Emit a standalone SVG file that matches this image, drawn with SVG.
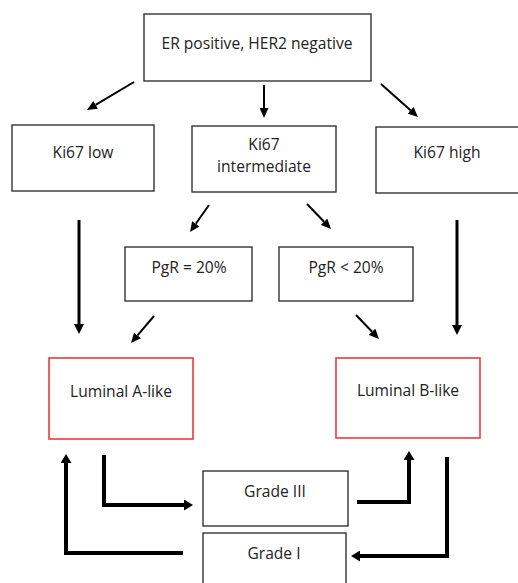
<svg xmlns="http://www.w3.org/2000/svg" width="518" height="583" viewBox="0 0 518 583">
<style>
.box{fill:#fff;stroke:#333;stroke-width:1.4}
.red{fill:#fff;stroke:#ee3a3a;stroke-width:1.6}
text{font-family:"Open Sans","Liberation Sans",Arial,sans-serif;font-size:15.6px;fill:#222;text-anchor:middle}
.thin{stroke:#000;stroke-width:2;fill:none;marker-end:url(#ah1)}
.mid{stroke:#000;stroke-width:3;fill:none;marker-end:url(#ah2)}
.thick{stroke:#000;stroke-width:4;fill:none;marker-end:url(#ah3)}
</style>
<defs>
<marker id="ah1" markerUnits="userSpaceOnUse" markerWidth="10" markerHeight="9" refX="0" refY="4.5" orient="auto" viewBox="0 0 10 9"><path d="M0,0 L10,4.5 L0,9 z" fill="#000"/></marker>
<marker id="ah2" markerUnits="userSpaceOnUse" markerWidth="10" markerHeight="10" refX="0" refY="5" orient="auto" viewBox="0 0 10 10"><path d="M0,0 L10,5 L0,10 z" fill="#000"/></marker>
<marker id="ah3" markerUnits="userSpaceOnUse" markerWidth="9" markerHeight="11" refX="0" refY="5.5" orient="auto" viewBox="0 0 9 11"><path d="M0,0 L9,5.5 L0,11 z" fill="#000"/></marker>
</defs>
<rect width="518" height="583" fill="#fff"/>
<g id="n-er"><rect class="box" x="144" y="14" width="227" height="67"/><text x="257" y="49">ER positive, HER2 negative</text></g>
<g id="n-ki67low"><rect class="box" x="12" y="125" width="142" height="66"/><text x="83" y="158">Ki67 low</text></g>
<g id="n-ki67int"><rect class="box" x="192" y="126" width="144" height="66"/><text x="264" y="150">Ki67</text><text x="264" y="172">intermediate</text></g>
<g id="n-ki67high"><rect class="box" x="376" y="127" width="150" height="66"/><text x="447" y="158">Ki67 high</text></g>
<g id="n-pgr20"><rect class="box" x="125" y="247" width="127" height="54"/><text x="189" y="273">PgR = 20%</text></g>
<g id="n-pgrlt20"><rect class="box" x="279" y="247" width="134" height="54"/><text x="346" y="273">PgR &lt; 20%</text></g>
<g id="n-luma"><rect class="red" x="49" y="358" width="144" height="81"/><text x="121" y="397">Luminal A-like</text></g>
<g id="n-lumb"><rect class="red" x="336" y="358" width="144" height="80"/><text x="408" y="396">Luminal B-like</text></g>
<g id="n-grade3"><rect class="box" x="203" y="471" width="145" height="55"/><text x="275" y="497">Grade III</text></g>
<g id="n-grade1"><rect class="box" x="203" y="533" width="143" height="60"/><text x="274" y="559">Grade I</text></g>
<g id="connectors">
<line class="thin" x1="134" y1="82" x2="95.6" y2="104.9"/>
<line class="thin" x1="264" y1="85" x2="264" y2="108"/>
<line class="thin" x1="381" y1="84" x2="410.5" y2="110.3"/>
<line class="thin" x1="209" y1="205" x2="195.8" y2="223.8"/>
<line class="thin" x1="307" y1="204" x2="324.1" y2="221.8"/>
<line class="thin" x1="154" y1="316" x2="137.5" y2="335.4"/>
<line class="thin" x1="356" y1="315" x2="372.1" y2="331.8"/>
<line class="mid" x1="79" y1="220" x2="79" y2="324"/>
<line class="mid" x1="457" y1="220" x2="457" y2="325"/>
<path class="thick" d="M104,455 V505 H184"/>
<path class="thick" d="M357,502 H409 V460"/>
<path class="thick" d="M447,457 V556 H360"/>
<path class="thick" d="M183,553 H66 V463"/>
</g>
</svg>
